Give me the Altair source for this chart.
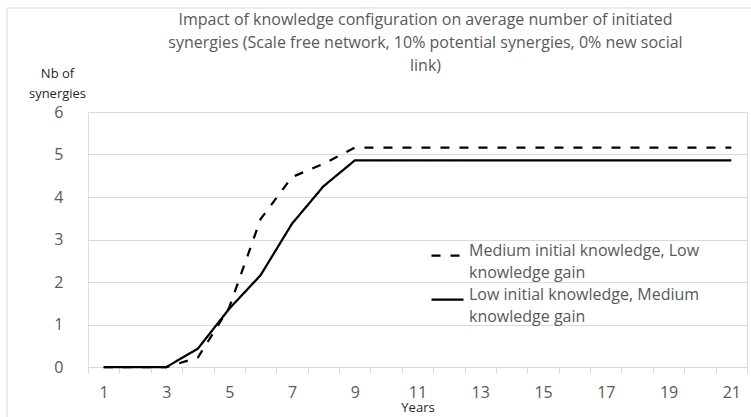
import altair as alt
import pandas as pd

years = list(range(1, 22))
series_names = [
    "Medium initial knowledge, Low knowledge gain",
    "Low initial knowledge, Medium knowledge gain",
]
series_medium_initial = [0, 0, 0, 0.22, 1.4, 3.48, 4.47, 4.78, 5.16, 5.16, 5.16,
                         5.16, 5.16, 5.16, 5.16, 5.16, 5.16, 5.16, 5.16, 5.16, 5.16]
series_low_initial = [0, 0, 0, 0.43, 1.37, 2.16, 3.37, 4.25, 4.86, 4.86, 4.86,
                      4.86, 4.86, 4.86, 4.86, 4.86, 4.86, 4.86, 4.86, 4.86, 4.86]
legend_lines = [
    ["Medium initial knowledge, Low", "knowledge gain"],
    ["Low initial knowledge, Medium", "knowledge gain"],
]
title_lines = [
    "Impact of knowledge configuration on average number of initiated",
    "synergies (Scale free network, 10% potential synergies, 0% new social",
    "link)",
]
y_title_lines = ["Nb of", "synergies"]
x_title = "Years"

rows = []
for name, vals in zip(series_names, [series_medium_initial, series_low_initial]):
    for yr, v in zip(years, vals):
        rows.append({"Year": yr, "Value": v, "Series": name})
df = pd.DataFrame(rows)

FONT = "Open Sans, Lato, sans-serif"
GRAY = "#595959"

label_expr = " : ".join(
    f"datum.label == '{n}' ? ['{l[0]}', '{l[1]}']" for n, l in zip(series_names, legend_lines)
) + " : datum.label"

lines = alt.Chart(df).mark_line(strokeWidth=2.25, color="black").encode(
    x=alt.X(
        "Year:O",
        scale=alt.Scale(type="band", paddingInner=0, paddingOuter=0),
        axis=alt.Axis(
            labelAngle=0,
            tickBand="extent",
            labelExpr="datum.value % 2 == 1 ? datum.label : ''",
            ticks=True,
            tickSize=6,
            tickColor="#d9d9d9",
            domainColor="#d9d9d9",
            labelPadding=11,
            labelFontSize=16,
            labelColor=GRAY,
            labelFont=FONT,
            title=x_title,
            titleFont=FONT,
            titleFontSize=13,
            titleFontWeight="normal",
            titleColor="#262626",
            titlePadding=1,
            grid=False,
        ),
    ),
    y=alt.Y(
        "Value:Q",
        scale=alt.Scale(domain=[0, 6], nice=False, zero=True),
        axis=alt.Axis(
            values=[0, 1, 2, 3, 4, 5, 6],
            grid=True,
            gridColor="#d9d9d9",
            domain=False,
            ticks=False,
            labelPadding=25,
            labelFontSize=16,
            labelColor=GRAY,
            labelFont=FONT,
            title=y_title_lines,
            titleAngle=0,
            titleAlign="center",
            titleBaseline="alphabetic",
            titleX=-31,
            titleY=-35,
            titleFont=FONT,
            titleFontSize=13,
            titleFontWeight="normal",
            titleColor="#262626",
            titleLineHeight=20,
        ),
    ),
    strokeDash=alt.StrokeDash(
        "Series:N",
        scale=alt.Scale(domain=series_names, range=[[9, 10], [1, 0]]),
        sort=series_names,
        legend=alt.Legend(
            title=None,
            orient="none",
            legendX=342,
            legendY=126,
            symbolType="stroke",
            symbolSize=1024,
            symbolStrokeWidth=2.25,
            symbolStrokeColor="black",
            labelExpr=label_expr,
            labelBaseline="alphabetic",
            labelFont=FONT,
            labelFontSize=16,
            labelColor=GRAY,
            labelLimit=400,
            labelOffset=4,
            rowPadding=1,
        ),
    ),
)

border_v = alt.Chart(df.head(1)).mark_rule(color="#d9d9d9", strokeWidth=1).encode(
    x=alt.value(-81), y=alt.value(-104), y2=alt.value(310)
)
border_h = alt.Chart(df.head(1)).mark_rule(color="#d9d9d9", strokeWidth=1).encode(
    x=alt.value(-81), x2=alt.value(670), y=alt.value(-104)
)

chart = alt.layer(border_v, border_h, lines).properties(
    width=659,
    height=255,
    autosize="none",
    padding={"left": 88, "top": 112, "right": 4, "bottom": 50},
    title=alt.TitleParams(
        text=title_lines,
        font=FONT,
        fontSize=16,
        fontWeight="normal",
        color=GRAY,
        anchor="middle",
        lineHeight=23,
        offset=-66,
        dx=8,
    ),
).configure_view(stroke=None).configure(
    background="white", style={"guide-label": {"lineHeight": 22}}
)

chart.save("out.html", embed_options={"renderer": "svg", "actions": False})
